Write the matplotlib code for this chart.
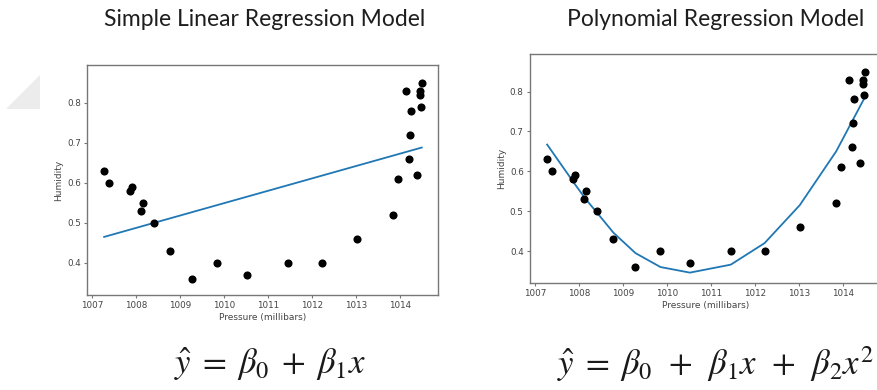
import matplotlib
matplotlib.use("Agg")
import matplotlib.pyplot as plt
from matplotlib.patches import Polygon

# Observations: pressure (millibars) vs humidity
pressure = [1007.27, 1007.38, 1007.85, 1007.90, 1008.10, 1008.15, 1008.40,
            1008.78, 1009.28, 1009.85, 1010.52, 1011.45, 1012.22, 1013.02,
            1013.85, 1013.97, 1014.15, 1014.20, 1014.25, 1014.24, 1014.40,
            1014.45, 1014.48, 1014.47, 1014.50]
humidity = [0.63, 0.60, 0.58, 0.59, 0.53, 0.55, 0.50,
            0.43, 0.36, 0.40, 0.37, 0.40, 0.40, 0.46,
            0.52, 0.61, 0.83, 0.66, 0.78, 0.72, 0.62,
            0.82, 0.79, 0.83, 0.85]

# Fitted straight line (simple linear regression)
linear_x = [1007.27, 1014.50]
linear_y = [0.465, 0.688]

# Fitted quadratic curve (polynomial regression), evaluated at the sorted pressures
poly_x = [1007.27, 1007.90, 1008.15, 1008.40, 1008.78, 1009.28, 1009.85,
          1010.52, 1011.45, 1012.22, 1013.02, 1013.85, 1014.50]
poly_y = [0.667, 0.568, 0.530, 0.497, 0.446, 0.395, 0.360,
          0.346, 0.366, 0.420, 0.515, 0.650, 0.785]

x_ticks = [1007, 1008, 1009, 1010, 1011, 1012, 1013, 1014]
y_ticks = [0.4, 0.5, 0.6, 0.7, 0.8]

titles = ["Simple Linear Regression Model", "Polynomial Regression Model"]
equations = [r"$\hat{y}\;=\;\beta_0\;+\;\beta_1 x$",
             r"$\hat{y}\;=\;\beta_0\;\,+\;\,\beta_1 x\;\,+\;\,\beta_2 x^2$"]

W, H = 877, 390
fig = plt.figure(figsize=(W / 100, H / 100), dpi=100)
plt.rcParams["mathtext.fontset"] = "stix"


def px_rect(left, top, right, bottom):
    return [left / W, 1 - bottom / H, (right - left) / W, (bottom - top) / H]


def style_axes(ax):
    for s in ax.spines.values():
        s.set_color("#777777")
        s.set_linewidth(1.0)
    ax.set_xlim(1006.88, 1014.87)
    ax.set_ylim(0.32, 0.894)
    ax.set_xticks(x_ticks)
    ax.set_yticks(y_ticks)
    ax.set_yticklabels([f"{v:.1f}" for v in y_ticks])
    ax.tick_params(labelsize=6.3, colors="#777777", labelcolor="#444444",
                   length=2.5, width=0.8, pad=2)
    ax.set_xlabel("Pressure (millibars)", fontsize=6.5, color="#444444", labelpad=2)
    ax.set_ylabel("Humidity", fontsize=6.5, color="#444444", labelpad=3)


ax1 = fig.add_axes(px_rect(87, 65, 438, 295))
ax1.scatter(pressure, humidity, s=34, color="black", zorder=3, linewidths=0)
ax1.plot(linear_x, linear_y, color="#1f77b4", lw=1.3, zorder=2)
style_axes(ax1)

ax2 = fig.add_axes(px_rect(530, 54, 881, 283))
ax2.scatter(pressure, humidity, s=34, color="black", zorder=3, linewidths=0)
ax2.plot(poly_x, poly_y, color="#1f77b4", lw=1.3, zorder=2)
style_axes(ax2)

# Titles above each panel
fig.text(265 / W, 1 - 19 / H, titles[0], ha="center", va="center",
         fontsize=16.5, family="Lato", color="#1e1e1e")
fig.text(716 / W, 1 - 19 / H, titles[1], ha="center", va="center",
         fontsize=16.5, family="Lato", color="#1e1e1e")

# Model equations below each panel
fig.text(270 / W, 1 - 364 / H, equations[0], ha="center", va="center",
         fontsize=25, color="#1a1a1a")
fig.text(715 / W, 1 - 364 / H, equations[1], ha="center", va="center",
         fontsize=25, color="#1a1a1a")

# Light grey corner shape at the left edge
tri = Polygon([(40 / W, 1 - 75 / H), (6 / W, 1 - 109 / H), (40 / W, 1 - 109 / H)],
              closed=True, transform=fig.transFigure, facecolor="#ececec",
              edgecolor="none", zorder=0)
fig.patches.append(tri)

fig.savefig("out.png", dpi=100)
